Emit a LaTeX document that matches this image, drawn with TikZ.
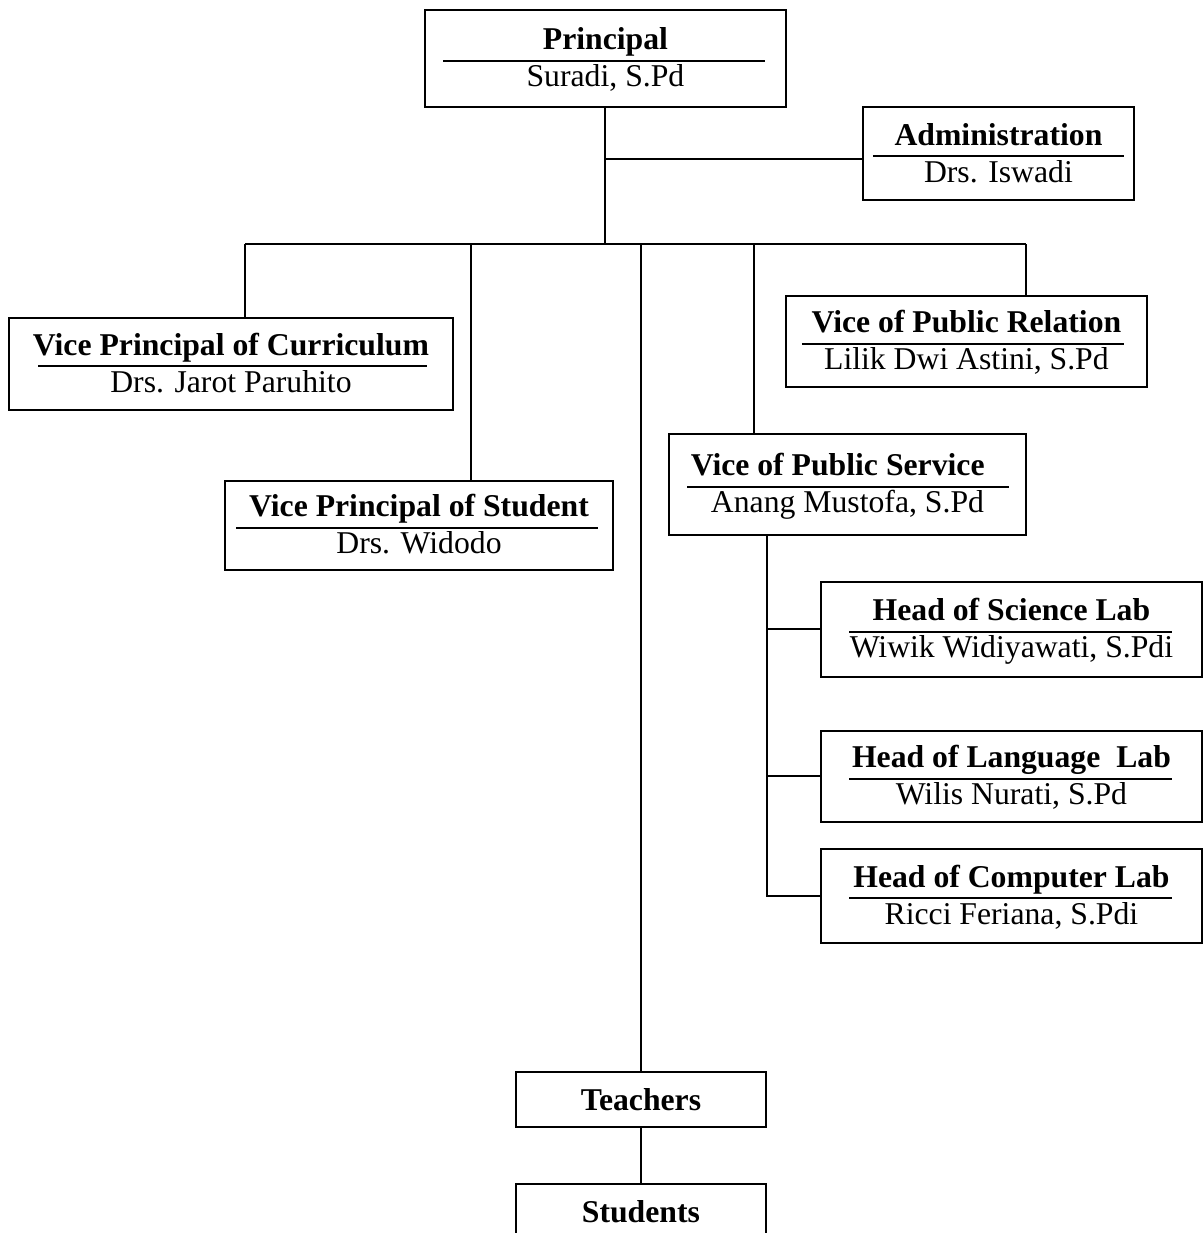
\documentclass[tikz,border=0pt]{standalone}
\usepackage{fontspec}
\setmainfont{Liberation Serif}
\usepackage{tikz}
\usetikzlibrary{positioning}
\newcommand{\topline}{\rule{0pt}{11.7pt}}

\begin{document}
\begin{tikzpicture}[office/.style={draw, rectangle, inner sep=0pt, align=center, font=\fontsize{12}{14}\selectfont},
			single/.style={draw, rectangle, inner sep=0pt, minimum width=3.325cm, minimum height=0.732cm, font=\fontsize{12}{14}\selectfont\bfseries},
			line width=0.75pt]
			\useasboundingbox (0, 0) rectangle (16.0, -16.4);
			
			\node[office, minimum width=4.8cm, minimum height=1.29cm](principal) at (8.053, -0.778) {\topline\textbf{Principal}\\Suradi, S.Pd\strut};
			\draw ([xshift=0.253cm, yshift=-0.033cm]principal.west) -- ([xshift=-0.293cm, yshift=-0.033cm]principal.east);
			
			\node[office, minimum width=3.604cm, minimum height=1.233cm](admin) at (13.28, -2.044) {\topline\textbf{Administration}\\Drs. Iswadi\strut};
			\draw ([xshift=0.146cm, yshift=-0.033cm]admin.west) -- ([xshift=-0.146cm, yshift=-0.033cm]admin.east);
			
			\node[office, minimum width=5.905cm, minimum height=1.224cm](curriculum) at (3.072, -4.841) {\topline\textbf{Vice Principal of Curriculum}\\Drs. Jarot Paruhito\strut};
			\draw ([xshift=0.4cm, yshift=-0.033cm]curriculum.west) -- ([xshift=-0.36cm, yshift=-0.033cm]curriculum.east);
			
			\node[office, minimum width=4.8cm, minimum height=1.21cm](relation) at (12.854, -4.542) {\topline\textbf{Vice of Public Relation}\\Lilik Dwi Astini, S.Pd\strut};
			\draw ([xshift=0.226cm, yshift=-0.033cm]relation.west) -- ([xshift=-0.319cm, yshift=-0.033cm]relation.east);
			
			\node[office, minimum width=4.748cm, minimum height=1.343cm](service) at (11.272, -6.444) {\topline\textbf{Vice of Public Service}\hspace*{0.26cm}\\Anang Mustofa, S.Pd\strut};
			\draw ([xshift=0.253cm, yshift=-0.033cm]service.west) -- ([xshift=-0.24cm, yshift=-0.033cm]service.east);
			
			\node[office, minimum width=5.16cm, minimum height=1.184cm](student) at (5.573, -6.989) {\topline\textbf{Vice Principal of Student}\\Drs. Widodo\strut};
			\draw ([xshift=0.16cm, yshift=-0.033cm]student.west) -- ([xshift=-0.213cm, yshift=-0.033cm]student.east);
			
			\node[office, minimum width=5.067cm, minimum height=1.264cm](science) at (13.453, -8.372) {\topline\textbf{Head of Science Lab}\\Wiwik Widiyawati, S.Pdi\strut};
			\draw ([xshift=0.386cm, yshift=-0.033cm]science.west) -- ([xshift=-0.412cm, yshift=-0.033cm]science.east);
			
			\node[office, minimum width=5.067cm, minimum height=1.21cm](language) at (13.453, -10.327) {\topline\textbf{Head of Language\ \ Lab}\\Wilis Nurati, S.Pd\strut};
			\draw ([xshift=0.386cm, yshift=-0.033cm]language.west) -- ([xshift=-0.412cm, yshift=-0.033cm]language.east);
			
			\node[office, minimum width=5.067cm, minimum height=1.25cm](computer) at (13.453, -11.917) {\topline\textbf{Head of Computer Lab}\\Ricci Feriana, S.Pdi\strut};
			\draw ([xshift=0.386cm, yshift=-0.033cm]computer.west) -- ([xshift=-0.412cm, yshift=-0.033cm]computer.east);
			
			\node[single](teachers) at (8.525, -14.623) {Teachers};
			\node[single](students) at (8.525, -16.113) {Students};
			
			% bus and drop points
			\coordinate (bus) at (0, -3.249);
			\coordinate (drop1) at (3.259, -3.249);
			\coordinate (drop2) at (6.264, -3.249);
			\coordinate (drop4) at (10.028, -3.249);
			\coordinate (drop5) at (13.642, -3.249);
			\coordinate (labs) at (10.201, -7.116);
			
			\draw (principal.south) -- (principal.south |- bus);
			\draw (principal.south |- admin.west) ++(0, -0.07) -- ([yshift=-0.07cm]admin.west);
			\draw (drop1) -- (drop5);
			\draw (drop1) -- (drop1 |- curriculum.north);
			\draw (drop2) -- (drop2 |- student.north);
			\draw (teachers.north |- bus) -- (teachers.north);
			\draw (drop4) -- (drop4 |- service.north);
			\draw (drop5) -- (drop5 |- relation.north);
			\draw (labs) |- (computer.west);
			\draw (labs |- science.west) -- (science.west);
			\draw (labs |- language.west) -- (language.west);
			\draw (teachers) -- (students);
			\end{tikzpicture}
\end{document}
